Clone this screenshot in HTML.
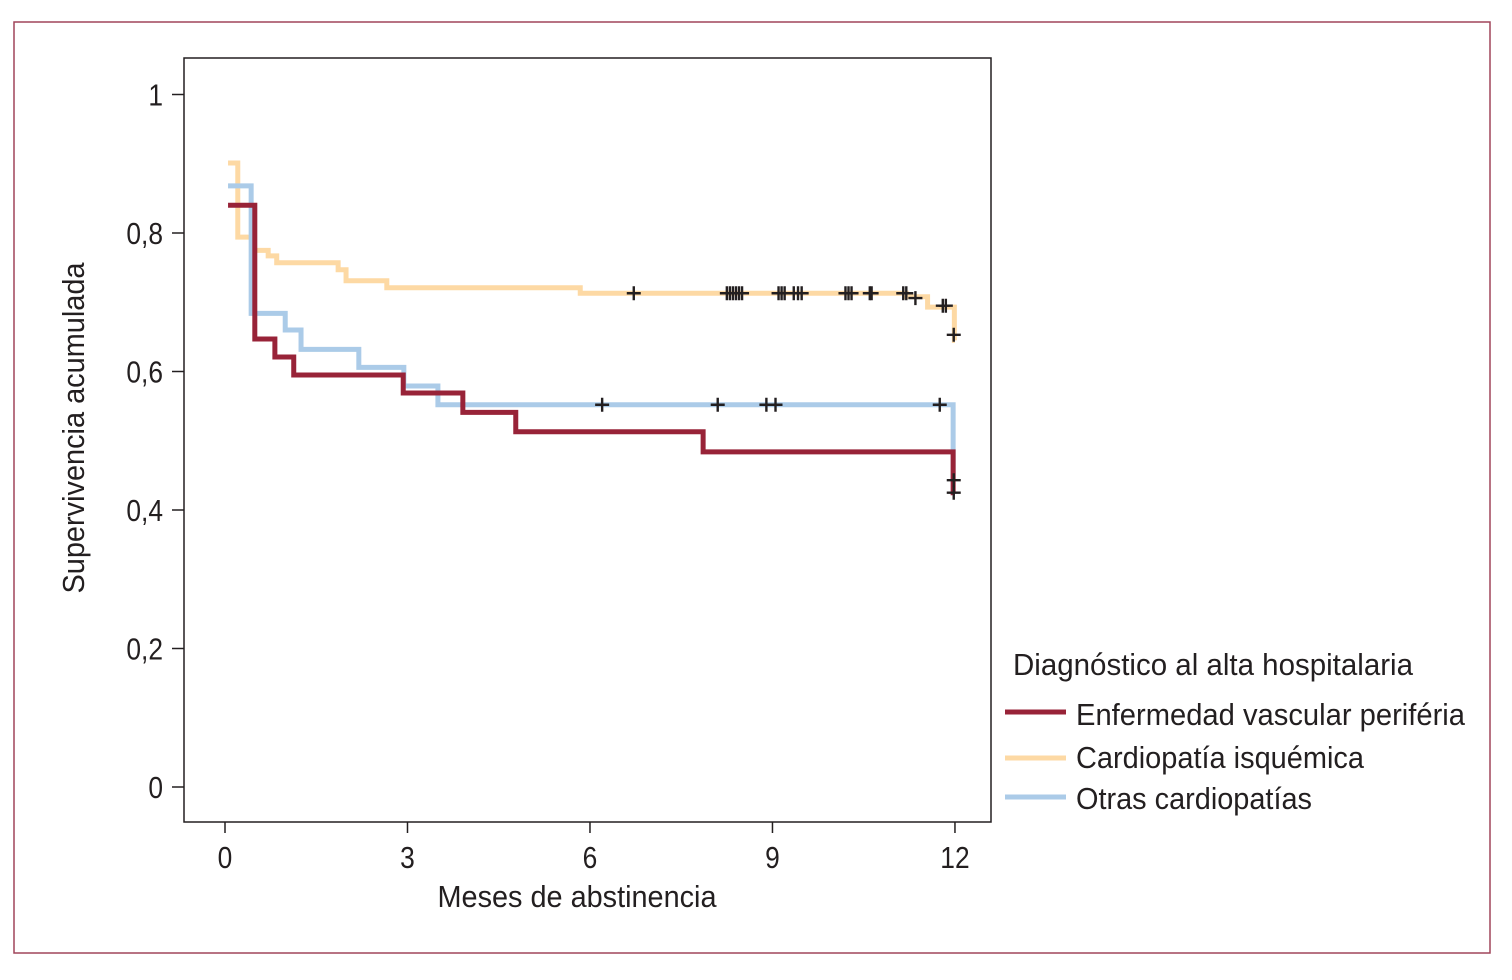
<!DOCTYPE html>
<html><head><meta charset="utf-8"><style>
html,body{margin:0;padding:0;background:#fff;}
svg text{font-family:"Liberation Sans Narrow","Liberation Sans",sans-serif;fill:#231f20;}
</style></head><body>
<svg width="1512" height="975" viewBox="0 0 1512 975" xmlns="http://www.w3.org/2000/svg">
<rect x="14" y="22" width="1476" height="931" fill="none" stroke="#a0455a" stroke-width="1.5"/>
<rect x="184" y="58" width="807" height="764" fill="none" stroke="#231f20" stroke-width="1.5"/>
<g id="axes"></g>
<g id="series"></g>
<text transform="translate(84,428) rotate(-90)" text-anchor="middle" font-size="31" textLength="331" lengthAdjust="spacingAndGlyphs">Supervivencia acumulada</text>
<text x="577" y="907" text-anchor="middle" font-size="31" textLength="279" lengthAdjust="spacingAndGlyphs">Meses de abstinencia</text>
<g>
<text x="1013" y="675" font-size="31" textLength="400" lengthAdjust="spacingAndGlyphs">Diagnóstico al alta hospitalaria</text>
<line x1="1005" y1="712" x2="1066" y2="712" stroke="#982338" stroke-width="5"/>
<text x="1076" y="725" font-size="31" textLength="389" lengthAdjust="spacingAndGlyphs">Enfermedad vascular periféria</text>
<line x1="1005" y1="758" x2="1066" y2="758" stroke="#fdd9a4" stroke-width="5"/>
<text x="1076" y="768" font-size="31" textLength="288" lengthAdjust="spacingAndGlyphs">Cardiopatía isquémica</text>
<line x1="1005" y1="797" x2="1066" y2="797" stroke="#abcbe8" stroke-width="5"/>
<text x="1076" y="809" font-size="31" textLength="236" lengthAdjust="spacingAndGlyphs">Otras cardiopatías</text>
</g>
</svg>
<script>
const xTicks=[0,3,6,9,12];
const yTicks=[0,0.2,0.4,0.6,0.8,1];
const yTickLabels=["0","0,2","0,4","0,6","0,8","1"];
const ciTimes=[0.05,0.21,0.48,0.71,0.85,1.86,1.99,2.66,5.84,11.2,11.55,11.99,12.0];
const ciSurv=[0.901,0.794,0.775,0.767,0.757,0.747,0.731,0.721,0.713,0.708,0.693,0.645,0.645];
const ocTimes=[0.05,0.43,0.99,1.25,2.2,2.94,3.5,11.97,12.0];
const ocSurv=[0.868,0.684,0.66,0.632,0.606,0.579,0.552,0.443,0.443];
const evpTimes=[0.05,0.49,0.82,1.13,2.93,3.91,4.78,7.86,11.97,12.0];
const evpSurv=[0.84,0.647,0.621,0.595,0.569,0.541,0.513,0.484,0.425,0.425];
const ciCensT=[6.72,8.25,8.3,8.35,8.4,8.45,8.5,9.1,9.15,9.2,9.35,9.42,9.48,10.2,10.25,10.3,10.6,10.63,11.15,11.2,11.35,11.8,11.85,11.98];
const ciCensS=[0.713,0.713,0.713,0.713,0.713,0.713,0.713,0.713,0.713,0.713,0.713,0.713,0.713,0.713,0.713,0.713,0.713,0.713,0.713,0.713,0.706,0.695,0.695,0.653];
const ocCensT=[6.2,8.1,8.9,9.05,11.75,11.98];
const ocCensS=[0.552,0.552,0.552,0.552,0.552,0.443];
const evpCensT=[11.98];
const evpCensS=[0.425];

const NS="http://www.w3.org/2000/svg";
const X=t=>225+t*60.83;
const Y=s=>787-s*692.5;
const axes=document.getElementById('axes');
const ser=document.getElementById('series');
function mk(tag,attrs,parent){const e=document.createElementNS(NS,tag);for(const k in attrs)e.setAttribute(k,attrs[k]);parent.appendChild(e);return e;}
xTicks.forEach(v=>{
  const l=mk('line',{x1:X(v),x2:X(v),y1:822,y2:833,stroke:'#231f20','stroke-width':1.5},axes);
  
  
  const t=mk('text',{x:X(v),y:868,'text-anchor':'middle','font-size':31,transform:`translate(${X(v)},0) scale(0.85,1) translate(${-X(v)},0)`},axes);
  t.textContent=v;
  
  
});
yTicks.forEach((v,i)=>{
  const l=mk('line',{x1:172,x2:184,y1:Y(v),y2:Y(v),stroke:'#231f20','stroke-width':1.5},axes);
  
  
  const t=mk('text',{x:163,y:Y(v)+11,'text-anchor':'end','font-size':31,transform:`translate(163,0) scale(0.85,1) translate(-163,0)`},axes);
  t.textContent=yTickLabels[i];
  
  
});
function step(times,surv,color,name){
  let d='M'+X(times[0])+','+Y(surv[0]);
  for(let i=1;i<times.length;i++){d+=' H'+X(times[i])+' V'+Y(surv[i]);}
  const p=mk('path',{d:d,fill:'none',stroke:color,'stroke-width':5},ser);
  
  
}
function cens(ts,ss,name){
  ts.forEach((t,i)=>{
    const x=X(t),y=Y(ss[i]);
    const p=mk('path',{d:`M${x-7},${y} H${x+7} M${x},${y-7} V${y+7}`,stroke:'#231f20','stroke-width':2.4,fill:'none'},ser);
    
    
  });
}
step(ciTimes,ciSurv,'#fdd9a4','curve-ci');
step(ocTimes,ocSurv,'#abcbe8','curve-oc');
step(evpTimes,evpSurv,'#982338','curve-evp');
cens(ciCensT,ciCensS,'censor-ci');
cens(ocCensT,ocCensS,'censor-oc');
cens(evpCensT,evpCensS,'censor-evp');
</script>
</body></html>
